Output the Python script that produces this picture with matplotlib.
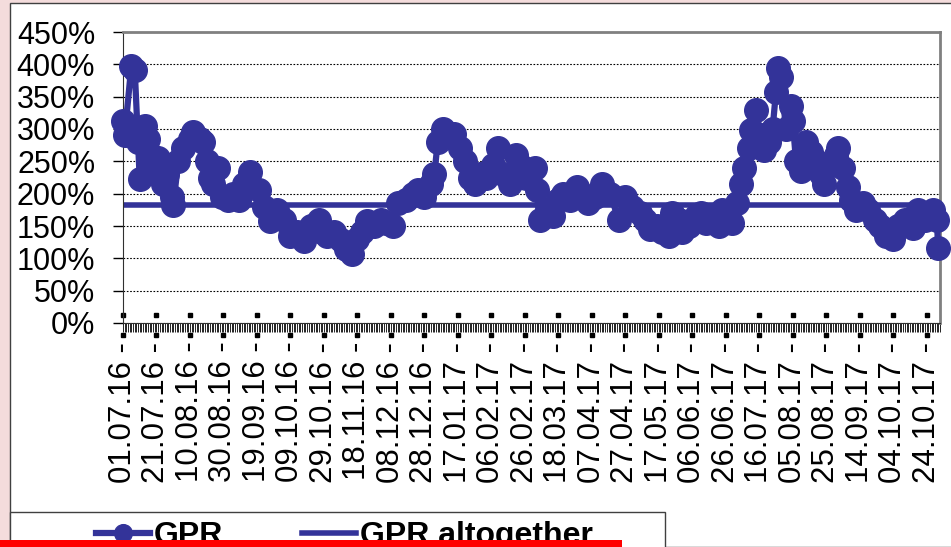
import numpy as np
import pandas as pd
import matplotlib
matplotlib.use('Agg')
import matplotlib.pyplot as plt
import matplotlib.dates as mdates
from matplotlib.patches import Rectangle

# GPR series: day offsets from 01.07.2016 and values in %
start = pd.Timestamp('2016-07-01')
day_offsets = [0, 1, 5, 7, 9, 10, 13, 15, 17, 19, 21, 24, 26, 29, 30, 33, 36, 40, 42, 46,
               48, 50, 52, 54, 57, 59, 63, 66, 69, 72, 76, 81, 84, 88, 92, 96, 100, 104, 108, 112,
               117, 119, 122, 126, 130, 133, 137, 140, 143, 146, 150, 154, 157, 161, 164, 169, 173, 176, 180, 184,
               186, 188, 191, 194, 198, 201, 204, 207, 210, 213, 217, 221, 224, 227, 231, 235, 237, 241, 243, 246,
               247, 249, 253, 257, 260, 263, 267, 271, 274, 278, 282, 286, 291, 296, 300, 304, 309, 312, 315, 319,
               322, 326, 328, 332, 334, 338, 342, 345, 348, 352, 356, 358, 361, 364, 367, 369, 371, 374, 375, 378,
               381, 383, 386, 388, 390, 391, 393, 396, 399, 400, 402, 405, 408, 411, 414, 417, 419, 423, 426, 427,
               430, 433, 435, 438, 442, 445, 449, 452, 456, 460, 463, 467, 472, 475, 479, 484, 486, 487]
gpr = [313, 290, 398, 392, 280, 222, 305, 285, 260, 240, 255, 215, 230, 195, 182, 250, 270, 285, 296, 285,
       280, 250, 225, 215, 240, 195, 190, 200, 190, 215, 233, 205, 180, 158, 175, 160, 135, 140, 127, 150,
       160, 140, 135, 140, 128, 115, 107, 130, 140, 158, 150, 160, 155, 150, 185, 190, 200, 205, 195, 215,
       231, 280, 300, 290, 293, 270, 250, 225, 215, 230, 225, 245, 270, 230, 215, 260, 245, 225, 230, 240,
       205, 160, 175, 165, 190, 200, 190, 210, 200, 185, 195, 215, 200, 160, 195, 180, 170, 160, 145, 150,
       140, 135, 170, 160, 140, 150, 165, 170, 155, 160, 150, 175, 160, 155, 185, 215, 240, 270, 298, 330,
       290, 267, 280, 300, 357, 395, 380, 300, 336, 313, 250, 235, 280, 265, 250, 230, 215, 245, 260, 270,
       240, 210, 190, 175, 185, 175, 160, 150, 135, 130, 150, 160, 147, 175, 160, 175, 160, 116]
gpr_altogether = 183

yticks = list(range(0, 451, 50))

dates = start + pd.to_timedelta(day_offsets, unit='D')
label_dates = start + pd.to_timedelta(list(range(0, 481, 20)), unit='D')

blue = '#333399'
plt.rcParams['font.family'] = ['Liberation Sans', 'DejaVu Sans']

fig = plt.figure(figsize=(9.51, 5.47), dpi=100, facecolor='#f4dcdc')
fig.patches.append(Rectangle((10 / 951, 0), 1, 1 - 3 / 547, transform=fig.transFigure,
                             facecolor='white', edgecolor='#404040', lw=1, zorder=-5))

ax = fig.add_axes([123 / 951, 1 - 323 / 547, (940 - 123) / 951, (323 - 32) / 547])
ax.set_facecolor('white')
ax.plot(dates, gpr, color=blue, lw=4.5, marker='o', ms=17, mec=blue, mfc=blue,
        label='GPR', zorder=3, clip_on=False)
ax.axhline(gpr_altogether, color=blue, lw=4, label='GPR altogether', zorder=2)

ax.set_ylim(0, 450)
ax.set_yticks(yticks)
ax.set_yticklabels([f'{v}%' for v in yticks], fontsize=22)
ax.yaxis.grid(True, color='black', ls=(0, (1.5, 1.5)), lw=0.8)
ax.tick_params(axis='y', length=7, width=1, pad=13)

ax.set_xlim(start, start + pd.Timedelta(days=488))
ax.set_xticks(label_dates)
ax.set_xticklabels([d.strftime('%d.%m.%y') + ' -' for d in label_dates], rotation=90, fontsize=22.5)
ax.xaxis.set_minor_locator(mdates.DayLocator())
ax.tick_params(axis='x', which='minor', length=6.5, width=0.6, direction='out')
ax.tick_params(axis='x', which='major', length=6.5, width=0.6, pad=7)
# dots above and below axis at label positions
ax.plot(label_dates, [-18.6] * len(label_dates), 's', ms=2.2, color='black', clip_on=False)
ax.plot(label_dates, [12.4] * len(label_dates), 's', ms=2.2, color='black', clip_on=False)

for s in ['top', 'right']:
    ax.spines[s].set_color('#808080')
    ax.spines[s].set_linewidth(2)
ax.spines['left'].set_color('#303030')
ax.spines['bottom'].set_color('#303030')

# legend box
fig.patches.append(Rectangle((10 / 951, -0.02), (665 - 10) / 951, (547 - 512) / 547 + 0.02,
                             transform=fig.transFigure, facecolor='white', edgecolor='#404040', lw=1))
h, l = ax.get_legend_handles_labels()
leg = fig.legend(h, l, loc='upper left', bbox_to_anchor=(96 / 951, 1 - 521 / 547), frameon=False,
                 ncol=2, prop={'weight': 'bold', 'size': 23}, handlelength=1.7, handletextpad=0.12,
                 columnspacing=2.45, borderpad=0, borderaxespad=0, markerscale=0.75)

# red bar at bottom
fig.patches.append(Rectangle((0, 0), 622 / 951, 7 / 547, transform=fig.transFigure,
                             facecolor='#ff0000', edgecolor='none', zorder=10))

fig.savefig('out.png', dpi=100, facecolor=fig.get_facecolor())
